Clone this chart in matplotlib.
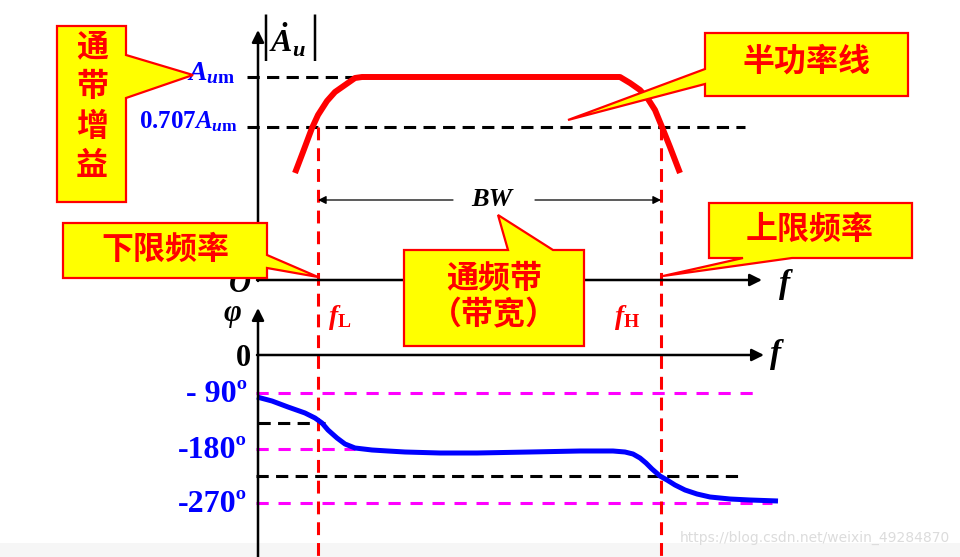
import matplotlib.pyplot as plt
from matplotlib.patches import Polygon

plt.rcParams['mathtext.fontset'] = 'custom'
plt.rcParams['mathtext.rm'] = 'Liberation Serif:bold'
plt.rcParams['mathtext.it'] = 'Liberation Serif:italic:bold'
plt.rcParams['mathtext.bf'] = 'Liberation Serif:bold'

# 坐标均按原图像素读取 (x 向右, y 向下)
# 幅频特性曲线
gain_x = [295, 303, 312, 318, 327, 335, 345, 355, 362, 620, 630, 640, 648, 655, 662, 666, 670, 675, 680]
gain_y = [173, 152, 128, 115, 101, 92, 85, 78, 77, 77, 83, 90, 99, 110, 127, 137, 147, 160, 173]

# 相频特性曲线
phase_x = [257, 272, 288, 305, 315, 322, 328, 337, 345, 355, 372, 388, 405, 440, 477, 530,
           580, 613, 625, 633, 640, 646, 652, 660, 667, 675, 685, 697, 710, 730, 750, 778]
phase_y = [397, 401, 407, 413, 418, 423, 430, 438, 444, 448, 450, 451, 452, 453, 453, 452,
           451, 451, 452, 454, 458, 463, 469, 476, 480, 485, 490, 494, 497, 499, 500, 501]

# 参考线: (y, x起, x止)
gain_levels = [(77, 247, 385), (127, 247, 745)]
phase_black = [(423, 258, 325), (476, 256, 738)]
phase_magenta = [(393, 256, 754), (449, 256, 355), (503, 256, 772)]
f_cut = [318, 661]   # fL, fH

# 标注框: (多边形顶点, 文字, 文字位置)
callouts = [
    ([(57, 26), (126, 26), (126, 55), (193, 75), (126, 98), (126, 202), (57, 202)],
     "通\n带\n增\n益", (92, 107)),
    ([(705, 33), (908, 33), (908, 96), (705, 96), (705, 84), (568, 120), (705, 69)],
     "半功率线", (806, 62)),
    ([(63, 223), (267, 223), (267, 255), (318, 277), (267, 268), (267, 278), (63, 278)],
     "下限频率", (165, 250)),
    ([(709, 203), (912, 203), (912, 258), (792, 258), (663, 276), (743, 258), (709, 258)],
     "上限频率", (810, 230)),
    ([(404, 250), (508, 250), (498, 215), (553, 250), (584, 250), (584, 346), (404, 346)],
     "通频带\n（带宽）", (494, 297)),
]
callout_spacing = [1.3, 1.2, 1.2, 1.2, 1.2]

fig = plt.figure(figsize=(9.6, 5.57), dpi=100)
ax = fig.add_axes([0, 0, 1, 1])
ax.set_xlim(0, 960)
ax.set_ylim(557, 0)
ax.axis('off')

serif = 'Liberation Serif'
cjk = ['Noto Sans CJK SC', 'DejaVu Sans']


def arrow(x0, y0, x1, y1, lw=1.8, ms=18):
    ax.annotate("", xy=(x1, y1), xytext=(x0, y0),
                arrowprops=dict(arrowstyle='-|>', color='black', lw=lw,
                                mutation_scale=ms, shrinkA=0, shrinkB=0))


# 坐标轴
arrow(258, 281, 258, 30)
arrow(257, 280, 762, 280)
arrow(258, 557, 258, 308)
arrow(257, 355, 764, 355)

# 虚线
for y, x0, x1 in gain_levels + phase_black:
    ax.plot([x0, x1], [y, y], color='black', lw=2.2, ls=(0, (4, 2.4)))
for y, x0, x1 in phase_magenta:
    ax.plot([x0, x1], [y, y], color='#FF00FF', lw=2.2, ls=(0, (4, 3.2)))
for x in f_cut:
    ax.plot([x, x], [127, 556], color='#FF0000', lw=2.2, ls=(0, (4.2, 2.6)))

# 曲线
ax.plot(gain_x, gain_y, color='#FF0000', lw=4.3, solid_capstyle='butt', solid_joinstyle='round')
ax.plot(phase_x, phase_y, color='#0000FF', lw=3.6, solid_capstyle='butt', solid_joinstyle='round')

# BW 箭头
arrow(453, 200, f_cut[0], 200, lw=0.9, ms=12)
arrow(535, 200, f_cut[1], 200, lw=0.9, ms=12)
ax.text(492, 200, "BW", family=serif, style='italic', weight='bold', fontsize=19,
        ha='center', va='center')

# 轴标签
for bx in [265, 314]:
    ax.text(bx, 38, "|", family=serif, fontsize=36, ha='center', va='center')
ax.text(287, 40, r"$\dot{A}_u$", fontsize=23, ha='center', va='center')
ax.text(236, 72, r"$A_{u\mathrm{m}}$", fontsize=20, color='#0000FF', ha='right', va='center')
ax.text(238, 122, r"$\mathrm{0.707}A_{u\mathrm{m}}$", fontsize=18, color='#0000FF',
        ha='right', va='center')
ax.text(240, 284, "O", family=serif, style='italic', weight='bold', fontsize=22,
        ha='center', va='center')
ax.text(785, 285, "f", family=serif, style='italic', weight='bold', fontsize=24,
        ha='center', va='center')
ax.text(776, 355, "f", family=serif, style='italic', weight='bold', fontsize=24,
        ha='center', va='center')
ax.text(232, 314, "φ", family=serif, style='italic', weight='bold', fontsize=22,
        ha='center', va='center')
ax.text(243, 358, "0", family=serif, weight='bold', fontsize=22, ha='center', va='center')
ax.text(340, 318, r"$f_{\mathrm{L}}$", fontsize=20, color='#FF0000', ha='center', va='center')
ax.text(627, 318, r"$f_{\mathrm{H}}$", fontsize=20, color='#FF0000', ha='center', va='center')

for y, s in zip([393, 449, 503], ["- 90º", "-180º", "-270º"]):
    ax.text(247, y + 2, s, family=serif, weight='bold', fontsize=23, color='#0000FF',
            ha='right', va='center')

# 标注框
for (pts, txt, (tx, ty)), sp in zip(callouts, callout_spacing):
    ax.add_patch(Polygon(pts, closed=True, facecolor='#FFFF00', edgecolor='#FF0000',
                         lw=1.6, zorder=5))
    ax.text(tx, ty, txt, family=cjk, weight='bold', fontsize=23, color='#FF0000',
            ha='center', va='center', linespacing=sp, zorder=6)

# 水印
ax.axhspan(543, 557, color='#f6f6f6', lw=0, zorder=0)
ax.text(950, 538, "https://blog.csdn.net/weixin_49284870", family='DejaVu Sans',
        fontsize=10, color='#dcdcdc', ha='right', va='center')

fig.savefig("out.png", dpi=100)
